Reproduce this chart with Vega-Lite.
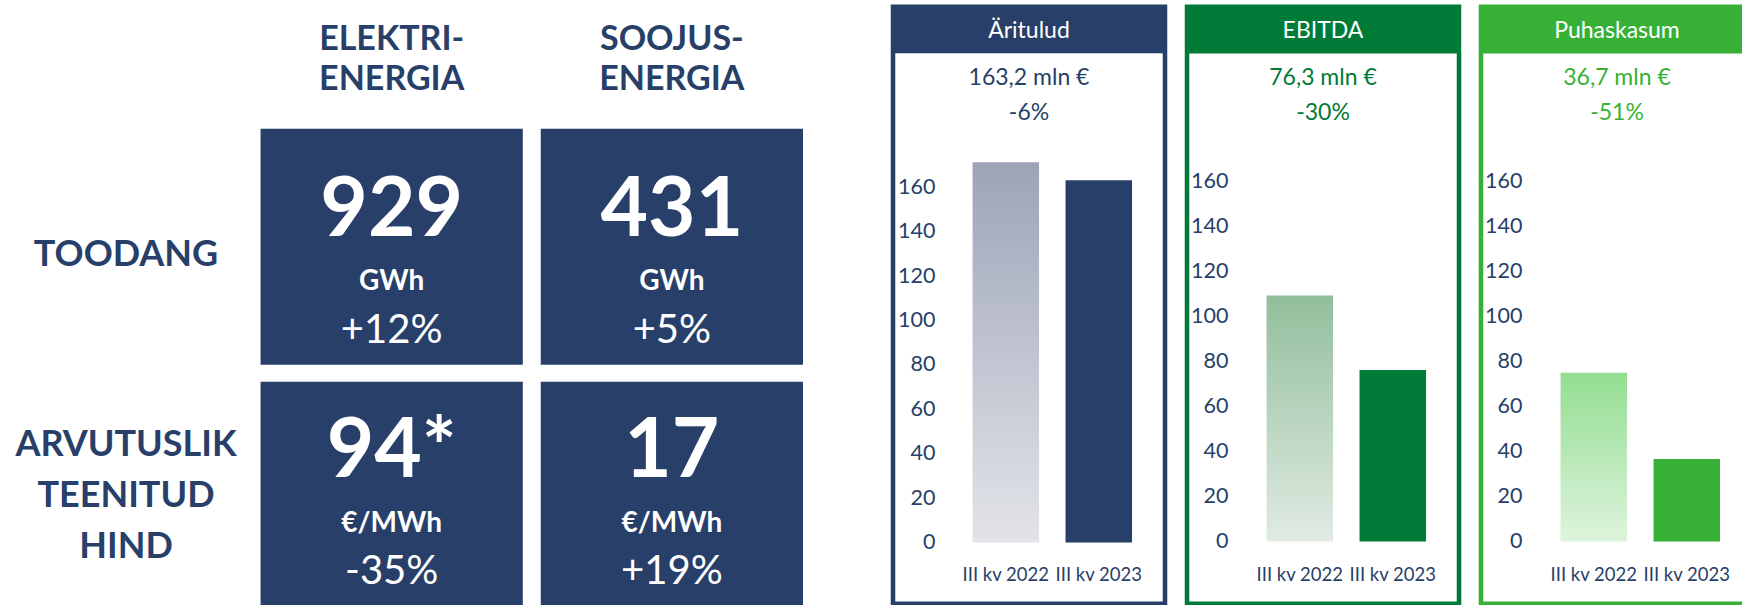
{
  "$schema": "https://vega.github.io/schema/vega-lite/v6.json",
  "background": "white",
  "padding": {"left": 0, "top": 3.75, "right": -11.5, "bottom": 0},
  "config": {
    "view": {"stroke": null},
    "font": "Lato",
    "axis": {"grid": false, "domain": false, "ticks": false, "tickSize": 0, "labelOverlap": false, "labelLimit": 0}
  },
  "datasets": {
    "energy": [
      {"col": "ELEKTRI- ENERGIA", "row": "TOODANG", "value": "929", "unit": "GWh", "change": "+12%"},
      {"col": "SOOJUS- ENERGIA", "row": "TOODANG", "value": "431", "unit": "GWh", "change": "+5%"},
      {"col": "ELEKTRI- ENERGIA", "row": "ARVUTUSLIK TEENITUD HIND", "value": "94*", "unit": "€/MWh", "change": "-35%"},
      {"col": "SOOJUS- ENERGIA", "row": "ARVUTUSLIK TEENITUD HIND", "value": "17", "unit": "€/MWh", "change": "+19%"}
    ],
    "finance": [
      {"metric": "Äritulud", "period": "III kv 2022", "value": 171.3},
      {"metric": "Äritulud", "period": "III kv 2023", "value": 163.2},
      {"metric": "EBITDA", "period": "III kv 2022", "value": 109.4},
      {"metric": "EBITDA", "period": "III kv 2023", "value": 76.3},
      {"metric": "Puhaskasum", "period": "III kv 2022", "value": 75.1},
      {"metric": "Puhaskasum", "period": "III kv 2023", "value": 36.7}
    ],
    "summary": [
      {"metric": "Äritulud", "total": "163,2 mln €", "change": "-6%"},
      {"metric": "EBITDA", "total": "76,3 mln €", "change": "-30%"},
      {"metric": "Puhaskasum", "total": "36,7 mln €", "change": "-51%"}
    ]
  },
  "spacing": 87,
  "hconcat": [
    {
      "width": 803,
      "height": 599,
      "data": {"name": "energy"},
      "encoding": {
        "x": {"field": "col", "type": "nominal", "sort": null,
          "scale": {"domain": ["ELEKTRI- ENERGIA", "SOOJUS- ENERGIA"], "paddingInner": 0.064, "paddingOuter": 0.465, "align": 1},
          "axis": {"orient": "top", "title": null, "labelExpr": "split(datum.label, ' ')", "labelAngle": 0, "labelFontSize": 34, "labelFontWeight": "bold", "labelColor": "#273F69", "labelLineHeight": 39.5, "labelBaseline": "middle", "labelPadding": 0, "offset": -33}},
        "y": {"field": "row", "type": "nominal", "sort": null,
          "scale": {"domain": ["TOODANG", "ARVUTUSLIK TEENITUD HIND"], "range": [122, 611], "paddingInner": 0.067, "paddingOuter": 0},
          "axis": {"title": null, "labelExpr": "split(datum.label, ' ')", "labelFontSize": 36, "labelFontWeight": "bold", "labelColor": "#273F69", "labelLineHeight": 51, "labelAlign": "center", "labelBaseline": "middle", "labelPadding": 135.5, "offset": -261,
            "labelOffset": {"condition": {"test": "datum.value === 'TOODANG'", "value": 8}, "value": -55}}}
      },
      "layer": [
        {"mark": {"type": "rect", "fill": "#273F69", "clip": true}},
        {"transform": [{"filter": "datum.row === 'TOODANG'"}],
          "mark": {"type": "text", "color": "white", "fontSize": 82, "fontWeight": "bold", "baseline": "middle", "align": "center", "dy": -36},
          "encoding": {"text": {"field": "value"}}},
        {"transform": [{"filter": "datum.row === 'TOODANG'"}],
          "mark": {"type": "text", "color": "white", "fontSize": 28, "fontWeight": "bold", "baseline": "middle", "align": "center", "dy": 35.7},
          "encoding": {"text": {"field": "unit"}}},
        {"transform": [{"filter": "datum.row === 'TOODANG'"}],
          "mark": {"type": "text", "color": "white", "fontSize": 40, "baseline": "middle", "align": "center", "dy": 84.4},
          "encoding": {"text": {"field": "change"}}},
        {"transform": [{"filter": "datum.row !== 'TOODANG'"}],
          "mark": {"type": "text", "color": "white", "fontSize": 82, "fontWeight": "bold", "baseline": "middle", "align": "center", "dy": -48},
          "encoding": {"text": {"field": "value"}}},
        {"transform": [{"filter": "datum.row !== 'TOODANG'"}],
          "mark": {"type": "text", "color": "white", "fontSize": 28, "fontWeight": "bold", "baseline": "middle", "align": "center", "dy": 24.7},
          "encoding": {"text": {"field": "unit"}}},
        {"transform": [{"filter": "datum.row !== 'TOODANG'"}],
          "mark": {"type": "text", "color": "white", "fontSize": 40, "baseline": "middle", "align": "center", "dy": 72.4},
          "encoding": {"text": {"field": "change"}}}
      ]
    },
    {
      "spacing": 16,
      "hconcat": [
        {
          "width": 272,
          "height": 597,
          "view": {"stroke": "#273F69", "strokeWidth": 4.5},
          "layer": [
            {
              "data": {"name": "finance"},
              "transform": [{"filter": "datum.metric === 'Äritulud'"}],
              "mark": {"type": "bar"},
              "encoding": {
                "x": {"field": "period", "type": "nominal", "sort": null,
                  "scale": {"domain": ["III kv 2022", "III kv 2023"], "paddingInner": 0.285, "paddingOuter": 0.605, "align": 0.707},
                  "axis": {"title": null, "labelAngle": 0, "labelFontSize": 18.5, "labelColor": "#273F69", "labelBaseline": "top", "labelPadding": 23, "offset": -61.3}},
                "y": {"field": "value", "type": "quantitative",
                  "scale": {"domain": [-27.6, 241.3], "nice": false, "zero": false},
                  "axis": {"title": null, "values": [0, 20, 40, 60, 80, 100, 120, 140, 160], "labelFontSize": 21.5, "labelColor": "#273F69", "labelPadding": 2, "offset": -44}},
                "fill": {"condition": {"test": "datum.period === 'III kv 2022'", "value": {"gradient": "linear", "x1": 0, "y1": 0, "x2": 0, "y2": 1, "stops": [{"offset": 0, "color": "#9DA4B8"}, {"offset": 1, "color": "#E3E4E9"}]}}, "value": "#273F69"}
              }
            },
            {
              "data": {"name": "summary"},
              "transform": [{"filter": "datum.metric === 'Äritulud'"}],
              "mark": {"type": "rect", "fill": "#273F69"},
              "encoding": {"x": {"value": 0}, "x2": {"value": "width"}, "y": {"datum": 241.3}, "y2": {"datum": 220.3}}
            },
            {
              "data": {"name": "summary"},
              "transform": [{"filter": "datum.metric === 'Äritulud'"}],
              "mark": {"type": "text", "color": "white", "fontSize": 23, "baseline": "middle", "align": "center", "x": 136},
              "encoding": {"y": {"datum": 230.3}, "text": {"field": "metric"}}
            },
            {
              "data": {"name": "summary"},
              "transform": [{"filter": "datum.metric === 'Äritulud'"}],
              "mark": {"type": "text", "color": "#273F69", "fontSize": 23, "baseline": "middle", "align": "center", "x": 136},
              "encoding": {"y": {"datum": 209.1}, "text": {"field": "total"}}
            },
            {
              "data": {"name": "summary"},
              "transform": [{"filter": "datum.metric === 'Äritulud'"}],
              "mark": {"type": "text", "color": "#273F69", "fontSize": 23, "baseline": "middle", "align": "center", "x": 136},
              "encoding": {"y": {"datum": 193.5}, "text": {"field": "change"}}
            }
          ]
        },
        {
          "width": 272,
          "height": 597,
          "view": {"stroke": "#007A37", "strokeWidth": 4.5},
          "layer": [
            {
              "data": {"name": "finance"},
              "transform": [{"filter": "datum.metric === 'EBITDA'"}],
              "mark": {"type": "bar"},
              "encoding": {
                "x": {"field": "period", "type": "nominal", "sort": null,
                  "scale": {"domain": ["III kv 2022", "III kv 2023"], "paddingInner": 0.285, "paddingOuter": 0.605, "align": 0.707},
                  "axis": {"title": null, "labelAngle": 0, "labelFontSize": 18.5, "labelColor": "#273F69", "labelBaseline": "top", "labelPadding": 24, "offset": -62.3}},
                "y": {"field": "value", "type": "quantitative",
                  "scale": {"domain": [-27.7, 237.9], "nice": false, "zero": false},
                  "axis": {"title": null, "values": [0, 20, 40, 60, 80, 100, 120, 140, 160], "labelFontSize": 21.5, "labelColor": "#273F69", "labelPadding": 2, "offset": -43}},
                "fill": {"condition": {"test": "datum.period === 'III kv 2022'", "value": {"gradient": "linear", "x1": 0, "y1": 0, "x2": 0, "y2": 1, "stops": [{"offset": 0, "color": "#92BE9C"}, {"offset": 1, "color": "#E1EBE3"}]}}, "value": "#007A37"}
              }
            },
            {
              "data": {"name": "summary"},
              "transform": [{"filter": "datum.metric === 'EBITDA'"}],
              "mark": {"type": "rect", "fill": "#007A37"},
              "encoding": {"x": {"value": 0}, "x2": {"value": "width"}, "y": {"datum": 237.9}, "y2": {"datum": 217.1}}
            },
            {
              "data": {"name": "summary"},
              "transform": [{"filter": "datum.metric === 'EBITDA'"}],
              "mark": {"type": "text", "color": "white", "fontSize": 23, "baseline": "middle", "align": "center", "x": 136},
              "encoding": {"y": {"datum": 227.0}, "text": {"field": "metric"}}
            },
            {
              "data": {"name": "summary"},
              "transform": [{"filter": "datum.metric === 'EBITDA'"}],
              "mark": {"type": "text", "color": "#007A37", "fontSize": 23, "baseline": "middle", "align": "center", "x": 136},
              "encoding": {"y": {"datum": 206.0}, "text": {"field": "total"}}
            },
            {
              "data": {"name": "summary"},
              "transform": [{"filter": "datum.metric === 'EBITDA'"}],
              "mark": {"type": "text", "color": "#007A37", "fontSize": 23, "baseline": "middle", "align": "center", "x": 136},
              "encoding": {"y": {"datum": 190.6}, "text": {"field": "change"}}
            }
          ]
        },
        {
          "width": 272,
          "height": 597,
          "view": {"stroke": "#36B136", "strokeWidth": 4.5},
          "layer": [
            {
              "data": {"name": "finance"},
              "transform": [{"filter": "datum.metric === 'Puhaskasum'"}],
              "mark": {"type": "bar"},
              "encoding": {
                "x": {"field": "period", "type": "nominal", "sort": null,
                  "scale": {"domain": ["III kv 2022", "III kv 2023"], "paddingInner": 0.285, "paddingOuter": 0.605, "align": 0.707},
                  "axis": {"title": null, "labelAngle": 0, "labelFontSize": 18.5, "labelColor": "#273F69", "labelBaseline": "top", "labelPadding": 24, "offset": -62.3}},
                "y": {"field": "value", "type": "quantitative",
                  "scale": {"domain": [-27.7, 237.9], "nice": false, "zero": false},
                  "axis": {"title": null, "values": [0, 20, 40, 60, 80, 100, 120, 140, 160], "labelFontSize": 21.5, "labelColor": "#273F69", "labelPadding": 2, "offset": -43}},
                "fill": {"condition": {"test": "datum.period === 'III kv 2022'", "value": {"gradient": "linear", "x1": 0, "y1": 0, "x2": 0, "y2": 1, "stops": [{"offset": 0, "color": "#93DD91"}, {"offset": 1, "color": "#DEF4DD"}]}}, "value": "#36B136"}
              }
            },
            {
              "data": {"name": "summary"},
              "transform": [{"filter": "datum.metric === 'Puhaskasum'"}],
              "mark": {"type": "rect", "fill": "#36B136"},
              "encoding": {"x": {"value": 0}, "x2": {"value": "width"}, "y": {"datum": 237.9}, "y2": {"datum": 217.1}}
            },
            {
              "data": {"name": "summary"},
              "transform": [{"filter": "datum.metric === 'Puhaskasum'"}],
              "mark": {"type": "text", "color": "white", "fontSize": 23, "baseline": "middle", "align": "center", "x": 136},
              "encoding": {"y": {"datum": 227.0}, "text": {"field": "metric"}}
            },
            {
              "data": {"name": "summary"},
              "transform": [{"filter": "datum.metric === 'Puhaskasum'"}],
              "mark": {"type": "text", "color": "#36B136", "fontSize": 23, "baseline": "middle", "align": "center", "x": 136},
              "encoding": {"y": {"datum": 206.0}, "text": {"field": "total"}}
            },
            {
              "data": {"name": "summary"},
              "transform": [{"filter": "datum.metric === 'Puhaskasum'"}],
              "mark": {"type": "text", "color": "#36B136", "fontSize": 23, "baseline": "middle", "align": "center", "x": 136},
              "encoding": {"y": {"datum": 190.6}, "text": {"field": "change"}}
            }
          ]
        }
      ]
    }
  ]
}
